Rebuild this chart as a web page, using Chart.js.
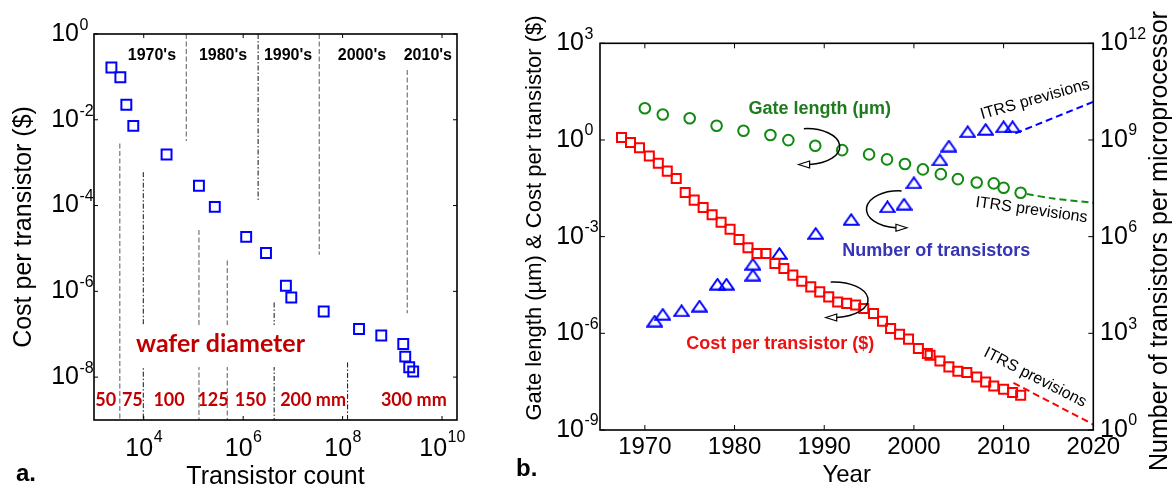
<!DOCTYPE html>
<html><head><meta charset="utf-8">
<script src="https://cdn.jsdelivr.net/npm/chart.js@4.4.0/dist/chart.umd.min.js"></script>
<style>
html,body{margin:0;padding:0;background:#fff;}
#wrap{position:relative;width:1174px;height:490px;overflow:hidden;background:#fff;}
#ca{position:absolute;left:0;top:0;}
#cb{position:absolute;left:480px;top:0;}
</style></head><body>
<div id="wrap"><canvas id="ca" width="480" height="490"></canvas><canvas id="cb" width="694" height="490"></canvas></div>
<script>
const F = "'Liberation Sans', Arial, Helvetica, sans-serif";
const FW = "Lato, 'Liberation Sans', sans-serif";

// ---------------- panel a data ----------------
const aTransistorCount = [2.24e3, 3.39e3, 4.47e3, 6.17e3, 2.88e4, 1.29e5, 2.69e5, 1.15e6, 2.88e6, 7.24e6, 9.3e6, 4.17e7, 2.14e8, 6.0e8, 1.66e9, 1.82e9, 2.19e9, 2.63e9];
const aCostPerTransistor = [1.66e-1, 9.8e-2, 2.24e-2, 7.2e-3, 1.55e-3, 2.9e-4, 9.3e-5, 1.86e-5, 7.8e-6, 1.35e-6, 7.2e-7, 3.4e-7, 1.32e-7, 9.3e-8, 5.9e-8, 3.0e-8, 1.7e-8, 1.35e-8];
const aXTickExponents = [4, 6, 8, 10];
const aYTickExponents = [0, -2, -4, -6, -8];
const aDecadeLabels = ["1970's", "1980's", "1990's", "2000's", "2010's"];
const aDecadeLabelX = [1.46e4, 3.94e5, 8.0e6, 2.45e8, 5.18e9];
const aDecadeLabelY = 0.307;
const aDecadeBoundaryX = [7.2e4, 2.0e6, 3.4e7, 2.0e9];
const aDecadeBoundaryTop = [1, 1, 1, 0.145];
const aDecadeBoundaryBottom = [3.2e-3, 1.35e-4, 7.1e-6, 3.1e-7];
const aDecadeBoundaryStyle = ['gray', 'black', 'gray', 'gray'];
const aWaferLabels = ['50', '75', '100', '125', '150', '200 mm', '300 mm'];
const aWaferLabelX = [1.72e3, 5.9e3, 3.23e4, 2.48e5, 1.40e6, 2.55e7, 2.71e9];
const aWaferLabelY = 2.83e-9;
const aWaferBoundaryX = [3.3e3, 9.8e3, 1.29e5, 4.8e5, 4.2e6, 1.26e8];
const aWaferBoundaryTop = [2.8e-3, 6.0e-4, 2.7e-5, 5.2e-6, 5.5e-7, 2.2e-8];
const aWaferBoundaryStyle = ['gray', 'black', 'gray', 'gray', 'black', 'black'];
const aWaferTitle = 'wafer diameter';
const aWaferTitleX = 3.5e5, aWaferTitleY = 5.9e-8;

// ---------------- panel b data ----------------
const bCostYears = [1967.4, 1968.4, 1969.4, 1970.5, 1971.5, 1972.5, 1973.5, 1974.5, 1975.5, 1976.5, 1977.5, 1978.5, 1979.5, 1980.5, 1981.5, 1982.5, 1983.5, 1984.5, 1985.5, 1986.5, 1987.5, 1988.5, 1989.5, 1990.5, 1991.5, 1992.5, 1993.5, 1994.4, 1995.5, 1996.5, 1997.4, 1998.4, 1999.4, 2000.5, 2001.5, 2001.8, 2002.9, 2003.9, 2004.9, 2005.9, 2007.0, 2008.0, 2008.9, 2010.0, 2011.0, 2011.9];
const bCostPerTransistor = [1.2, 0.84, 0.57, 0.32, 0.19, 0.108, 0.064, 0.0236, 0.0136, 8.0e-3, 4.8e-3, 2.78e-3, 1.69e-3, 8.1e-4, 4.55e-4, 3.0e-4, 3.0e-4, 1.47e-4, 1.03e-4, 6.4e-5, 4.15e-5, 2.76e-5, 1.93e-5, 1.35e-5, 9.4e-6, 8.5e-6, 7.6e-6, 5.9e-6, 4.1e-6, 2.38e-6, 1.41e-6, 9.4e-7, 6.6e-7, 3.37e-7, 2.36e-7, 2.09e-7, 1.39e-7, 9.1e-8, 6.7e-8, 6.1e-8, 4.4e-8, 3.1e-8, 2.32e-8, 1.84e-8, 1.45e-8, 1.2e-8];
const bGateYears = [1970, 1972, 1975, 1978, 1981, 1984, 1986, 1989, 1992, 1995, 1997, 1999, 2001, 2003, 2004.9, 2007, 2008.9, 2010, 2011.9];
const bGateLength = [9.6, 6.2, 4.7, 2.76, 1.93, 1.42, 0.99, 0.66, 0.485, 0.357, 0.25, 0.179, 0.122, 0.087, 0.061, 0.048, 0.045, 0.033, 0.023];
const bTransYears = [1971.1, 1972.0, 1974.1, 1976.1, 1978.1, 1979.1, 1982.05, 1982.05, 1985.0, 1989.05, 1993.0, 1997.05, 1998.9, 2000.0, 2002.9, 2003.9, 2006.0, 2008.0, 2010.0, 2011.0];
const bTransCount = [2.4e3, 3.9e3, 5.0e3, 7.0e3, 3.35e4, 3.35e4, 6.4e4, 1.4e5, 3.0e5, 1.26e6, 3.4e6, 8.4e6, 1.02e7, 4.7e7, 2.4e8, 6.5e8, 1.8e9, 2.13e9, 2.57e9, 2.57e9];
const bCostItrsYears = [2011.1, 2020];
const bCostItrs = [2.9e-8, 1.48e-9];
const bGateItrsYears = [2012.6, 2015.5, 2020];
const bGateItrs = [0.021, 0.0153, 0.0112];
const bTransItrsYears = [2011.3, 2020];
const bTransItrs = [1.6e9, 1.53e10];
const bXTicks = [1970, 1980, 1990, 2000, 2010, 2020];
const bLeftTickExponents = [3, 0, -3, -6, -9];
const bRightTickExponents = [12, 9, 6, 3, 0];
const bAnnotTexts = ['Gate length (µm)', 'Number of transistors', 'Cost per transistor ($)'];
const bAnnotX = [1989.5, 2002.5, 1985.1];
const bAnnotY = [9.1, 3.55e-4, 4.8e-7];
const bItrsText = 'ITRS previsions';
const bItrsX = [2013.5, 2013.1, 2013.5];
const bItrsY = [18, 6.65e-3, 4.24e-8];
const bArrowX = [1988.05, 1998.31, 1991.06];
const bArrowY = [0.624, 7.05e-3, 1.1e-5];

// ---------------- helpers ----------------
const pts = (xs, ys) => xs.map((v, i) => ({x: v, y: ys[i]}));
function vLine(xv, y0, y1, style) {
  const gray = style === 'gray';
  return {data: [{x: xv, y: y0}, {x: xv, y: y1}], showLine: true, pointRadius: 0,
    borderColor: gray ? '#808080' : '#111', borderWidth: gray ? 1.3 : 1,
    borderDash: gray ? [5, 2.5] : [5, 2, 1.5, 2], fill: false};
}
function triImg(color) {
  const c = document.createElement('canvas'); c.width = 17; c.height = 13;
  const g = c.getContext('2d'); g.strokeStyle = color; g.lineWidth = 2;
  g.beginPath(); g.moveTo(8.5, 1.3); g.lineTo(15.8, 11.8); g.lineTo(1.2, 11.8); g.closePath(); g.stroke();
  return c;
}
function supLabel(ctx, x, y, sup, align, mainSize, supSize, raise) {
  ctx.font = mainSize + 'px ' + F; const w1 = ctx.measureText('10').width;
  ctx.font = supSize + 'px ' + F; const w2 = ctx.measureText(sup).width;
  let x0 = align === 'center' ? x - (w1 + w2) / 2 : (align === 'right' ? x - w1 : x);
  ctx.textAlign = 'left'; ctx.textBaseline = 'middle'; ctx.fillStyle = '#000';
  ctx.font = mainSize + 'px ' + F; ctx.fillText('10', x0, y);
  ctx.font = supSize + 'px ' + F; ctx.fillText(sup, x0 + w1 + 0.5, y - raise);
}
function seg(ctx, x0, y0, x1, y1) { ctx.beginPath(); ctx.moveTo(x0, y0); ctx.lineTo(x1, y1); ctx.stroke(); }
const expTicks = arr => s => { s.ticks = arr.map(e => ({value: Math.pow(10, e)})); };

// ---------------- panel a ----------------
const panelA = {
  id: 'panelA',
  afterDatasetsDraw(chart) {
    const {ctx, scales: {x, y}} = chart;
    ctx.save();
    ctx.textAlign = 'center'; ctx.textBaseline = 'middle';
    ctx.fillStyle = '#000'; ctx.font = 'bold 16px ' + F;
    aDecadeLabels.forEach((t, i) => ctx.fillText(t, x.getPixelForValue(aDecadeLabelX[i]), y.getPixelForValue(aDecadeLabelY)));
    ctx.fillStyle = '#c00000'; ctx.font = 'bold 18px ' + FW;
    aWaferLabels.forEach((t, i) => ctx.fillText(t, x.getPixelForValue(aWaferLabelX[i]), y.getPixelForValue(aWaferLabelY)));
    ctx.font = 'bold 25px ' + FW;
    const wx = x.getPixelForValue(aWaferTitleX), wy = y.getPixelForValue(aWaferTitleY);
    const ww = ctx.measureText(aWaferTitle).width;
    ctx.fillStyle = '#fff'; ctx.fillRect(wx - ww / 2 - 6, wy - 19, ww + 12, 42);
    ctx.fillStyle = '#c00000'; ctx.fillText(aWaferTitle, wx, wy);
    ctx.restore();
  },
  afterDraw(chart) {
    const {ctx, chartArea: ca, scales: {x, y}} = chart;
    ctx.save();
    ctx.strokeStyle = '#000'; ctx.lineWidth = 1.6;
    ctx.strokeRect(ca.left, ca.top, ca.right - ca.left, ca.bottom - ca.top);
    ctx.lineWidth = 1;
    x.ticks.forEach(t => { const p = x.getPixelForValue(t.value); seg(ctx, p, ca.bottom, p, ca.bottom - 4); seg(ctx, p, ca.top, p, ca.top + 4); });
    y.ticks.forEach(t => { const p = y.getPixelForValue(t.value); seg(ctx, ca.left, p, ca.left + 4, p); seg(ctx, ca.right, p, ca.right - 4, p); });
    aXTickExponents.forEach(e => supLabel(ctx, x.getPixelForValue(Math.pow(10, e)), ca.bottom + 29, String(e), 'center', 25, 16, 11));
    aYTickExponents.forEach(e => supLabel(ctx, ca.left - 15, y.getPixelForValue(Math.pow(10, e)), String(e), 'right', 25, 16, 8.5));
    ctx.fillStyle = '#000'; ctx.font = 'bold 24px ' + F; ctx.textAlign = 'left'; ctx.textBaseline = 'middle';
    ctx.fillText('a.', 16, 474);
    ctx.restore();
  }
};

const aDatasets = [];
aDecadeBoundaryX.forEach((v, i) => aDatasets.push(vLine(v, aDecadeBoundaryTop[i], aDecadeBoundaryBottom[i], aDecadeBoundaryStyle[i])));
aWaferBoundaryX.forEach((v, i) => aDatasets.push(vLine(v, aWaferBoundaryTop[i], 1e-9, aWaferBoundaryStyle[i])));
aDatasets.push({data: pts(aTransistorCount, aCostPerTransistor), pointStyle: 'rect', pointRadius: 7,
  borderColor: '#0000ff', backgroundColor: 'rgba(0,0,0,0)', pointBorderWidth: 2, showLine: false});

new Chart(document.getElementById('ca'), {
  type: 'scatter',
  data: {datasets: aDatasets},
  options: {
    responsive: false, animation: false, events: [],
    layout: {padding: {top: 34, right: 23, bottom: 0, left: 0}},
    plugins: {legend: {display: false}, tooltip: {enabled: false}},
    scales: {
      x: {type: 'logarithmic', position: 'bottom', min: 1e3, max: 2e10,
        afterBuildTicks: expTicks(aXTickExponents), afterFit: s => { s.height = 70; },
        ticks: {display: false}, grid: {display: false}, border: {display: false},
        title: {display: true, text: 'Transistor count', color: '#000', font: {family: F, size: 25, lineHeight: 1}, padding: {top: 0, bottom: 0}}},
      y: {type: 'logarithmic', position: 'left', min: 1e-9, max: 1,
        afterBuildTicks: expTicks(aYTickExponents), afterFit: s => { s.width = 94; },
        ticks: {display: false}, grid: {display: false}, border: {display: false},
        title: {display: true, text: 'Cost per transistor ($)', color: '#000', font: {family: F, size: 25, lineHeight: 1.2}, padding: {top: 9, bottom: 0}}}
    }
  },
  plugins: [panelA]
});

// ---------------- panel b ----------------
const panelB = {
  id: 'panelB',
  afterDatasetsDraw(chart) {
    const {ctx, scales: {x, yL}} = chart;
    ctx.save();
    ctx.textAlign = 'center'; ctx.textBaseline = 'middle';
    const cols = ['#1e7b1e', '#3535b5', '#ee1111'];
    ctx.font = 'bold 18px ' + F;
    bAnnotTexts.forEach((t, i) => { ctx.fillStyle = cols[i]; ctx.fillText(t, x.getPixelForValue(bAnnotX[i]), yL.getPixelForValue(bAnnotY[i])); });
    const angles = [-16, 8, 27];
    ctx.fillStyle = '#000'; ctx.font = '16px ' + F;
    bItrsX.forEach((v, i) => {
      ctx.save(); ctx.translate(x.getPixelForValue(v), yL.getPixelForValue(bItrsY[i]));
      ctx.rotate(angles[i] * Math.PI / 180); ctx.fillText(bItrsText, 0, 0); ctx.restore();
    });
    const rx = [33, 32.3, 34.3], ry = [18, 18.5, 17.8], dir = ['left', 'right', 'left'];
    ctx.strokeStyle = '#000'; ctx.lineWidth = 1.5;
    bArrowX.forEach((v, i) => {
      const cx = x.getPixelForValue(v), cy = yL.getPixelForValue(bArrowY[i]);
      const d2r = Math.PI / 180;
      let ex, ey;
      ctx.beginPath();
      if (dir[i] === 'left') {
        ctx.ellipse(cx, cy, rx[i], ry[i], 0, -95 * d2r, 85 * d2r, false);
        ex = cx + rx[i] * Math.cos(85 * d2r); ey = cy + ry[i] * Math.sin(85 * d2r);
      } else {
        ctx.ellipse(cx, cy, rx[i], ry[i], 0, -85 * d2r, 95 * d2r, true);
        ex = cx + rx[i] * Math.cos(95 * d2r); ey = cy + ry[i] * Math.sin(95 * d2r);
      }
      ctx.stroke();
      const s = dir[i] === 'left' ? -1 : 1;
      ctx.beginPath(); ctx.moveTo(ex + s * 11, ey); ctx.lineTo(ex, ey - 3.5); ctx.lineTo(ex, ey + 3.5); ctx.closePath();
      ctx.fillStyle = '#fff'; ctx.fill(); ctx.lineWidth = 1.2; ctx.stroke(); ctx.lineWidth = 1.5;
    });
    ctx.restore();
  },
  afterDraw(chart) {
    const {ctx, chartArea: ca, scales: {x, yL, yR}} = chart;
    ctx.save();
    ctx.strokeStyle = '#000'; ctx.lineWidth = 1.6;
    ctx.strokeRect(ca.left, ca.top, ca.right - ca.left, ca.bottom - ca.top);
    ctx.lineWidth = 1;
    x.ticks.forEach(t => { const p = x.getPixelForValue(t.value); seg(ctx, p, ca.bottom, p, ca.bottom - 5); seg(ctx, p, ca.top, p, ca.top + 5); });
    yL.ticks.forEach(t => { const p = yL.getPixelForValue(t.value); seg(ctx, ca.left, p, ca.left + 5, p); });
    yR.ticks.forEach(t => { const p = yR.getPixelForValue(t.value); seg(ctx, ca.right, p, ca.right - 5, p); });
    ctx.fillStyle = '#000'; ctx.font = '24px ' + F; ctx.textAlign = 'center'; ctx.textBaseline = 'middle';
    bXTicks.forEach(v => ctx.fillText(String(v), x.getPixelForValue(v), ca.bottom + 17.5));
    bLeftTickExponents.forEach(e => supLabel(ctx, ca.left - 16, yL.getPixelForValue(Math.pow(10, e)), String(e), 'right', 25, 16, 9));
    bRightTickExponents.forEach(e => supLabel(ctx, ca.right + 6.7, yR.getPixelForValue(Math.pow(10, e)), String(e), 'left', 25, 16, 9));
    ctx.fillStyle = '#000'; ctx.textAlign = 'center'; ctx.textBaseline = 'middle';
    ctx.save(); ctx.translate(54.5, 218); ctx.rotate(-Math.PI / 2);
    ctx.font = '22px ' + F; ctx.fillText('Gate length (µm) & Cost per transistor ($)', 0, 0); ctx.restore();
    ctx.save(); ctx.translate(680.5, 241); ctx.rotate(-Math.PI / 2);
    ctx.font = '25px ' + F; ctx.fillText('Number of transistors per microprocessor', 0, 0); ctx.restore();
    ctx.font = 'bold 24px ' + F; ctx.textAlign = 'left';
    ctx.fillText('b.', 36, 469);
    ctx.restore();
  }
};

const green = '#128a12';
new Chart(document.getElementById('cb'), {
  type: 'scatter',
  data: {datasets: [
    {data: pts(bCostItrsYears, bCostItrs), yAxisID: 'yL', showLine: true, pointRadius: 0, borderColor: '#ff0000', borderWidth: 2, borderDash: [7, 4]},
    {data: pts(bGateItrsYears, bGateItrs), yAxisID: 'yL', showLine: true, pointRadius: 0, borderColor: green, borderWidth: 2, borderDash: [7, 4], tension: 0.3},
    {data: pts(bTransItrsYears, bTransItrs), yAxisID: 'yR', showLine: true, pointRadius: 0, borderColor: '#0000ff', borderWidth: 2, borderDash: [7, 4]},
    {data: pts(bCostYears, bCostPerTransistor), yAxisID: 'yL', pointStyle: 'rect', pointRadius: 6.4, borderColor: '#ff0000', backgroundColor: 'rgba(0,0,0,0)', pointBorderWidth: 2},
    {data: pts(bGateYears, bGateLength), yAxisID: 'yL', pointStyle: 'circle', pointRadius: 5.3, borderColor: green, backgroundColor: 'rgba(0,0,0,0)', pointBorderWidth: 2},
    {data: pts(bTransYears, bTransCount), yAxisID: 'yR', pointStyle: triImg('#0000ff'), pointRadius: 6, borderColor: '#0000ff', backgroundColor: 'rgba(0,0,0,0)'}
  ]},
  options: {
    responsive: false, animation: false, events: [],
    layout: {padding: {top: 43.3, right: 0, bottom: 0, left: 0}},
    plugins: {legend: {display: false}, tooltip: {enabled: false}},
    scales: {
      x: {type: 'linear', position: 'bottom', min: 1965, max: 2020,
        afterBuildTicks: s => { s.ticks = bXTicks.map(v => ({value: v})); }, afterFit: s => { s.height = 60; },
        ticks: {display: false}, grid: {display: false}, border: {display: false},
        title: {display: true, text: 'Year', color: '#000', font: {family: F, size: 24, lineHeight: 1}, padding: {top: 0, bottom: 3}}},
      yL: {type: 'logarithmic', position: 'left', min: 1e-9, max: 1e3,
        afterBuildTicks: expTicks(bLeftTickExponents), afterFit: s => { s.width = 120; },
        ticks: {display: false}, grid: {display: false}, border: {display: false}},
      yR: {type: 'logarithmic', position: 'right', min: 1, max: 1e12,
        afterBuildTicks: expTicks(bRightTickExponents), afterFit: s => { s.width = 80.7; },
        ticks: {display: false}, grid: {display: false}, border: {display: false}}
    }
  },
  plugins: [panelB]
});
</script>
</body></html>
